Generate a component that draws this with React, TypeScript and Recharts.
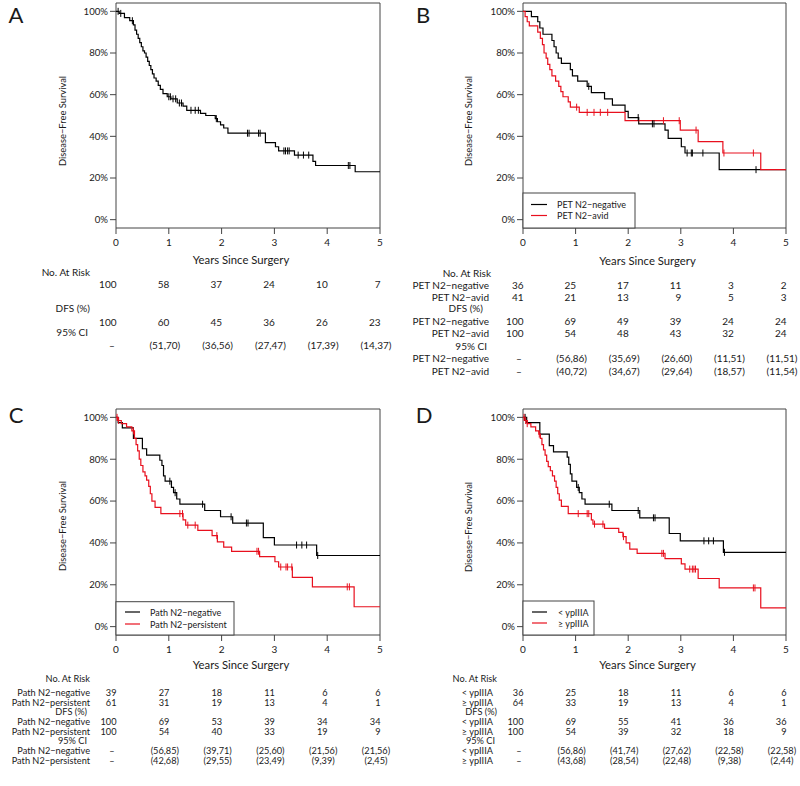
import React from "react";
import { ComposedChart, Line, Scatter, XAxis, YAxis, ReferenceArea } from "recharts";

const yearTicks = [0, 1, 2, 3, 4, 5];
const survTicks = [0, 0.2, 0.4, 0.6, 0.8, 1];
const sectionTitles = ["No. At Risk", "DFS (%)", "95% CI"];

// A: all patients
const allTime = [0, 0.06, 0.16, 0.26, 0.33, 0.36, 0.39, 0.42, 0.45, 0.48, 0.51, 0.54, 0.57, 0.6, 0.63, 0.66, 0.69, 0.72, 0.76, 0.8, 0.84, 0.89, 0.97, 1.04, 1.16, 1.27, 1.34, 1.6, 1.7, 1.88, 1.92, 1.98, 2.04, 2.12, 2.83, 3.02, 3.08, 3.38, 3.73, 3.78, 4.53];
const allSurv = [1, 0.99, 0.97, 0.955, 0.935, 0.91, 0.89, 0.87, 0.85, 0.83, 0.81, 0.8, 0.78, 0.76, 0.74, 0.72, 0.7, 0.68, 0.665, 0.645, 0.625, 0.605, 0.59, 0.58, 0.56, 0.545, 0.525, 0.51, 0.5, 0.485, 0.47, 0.455, 0.44, 0.415, 0.37, 0.35, 0.33, 0.31, 0.28, 0.26, 0.23];
const allCens = [0.04, 0.09, 0.31, 1.0, 1.03, 1.08, 1.13, 1.2, 1.24, 1.42, 1.5, 1.56, 1.9, 2.49, 2.52, 2.7, 2.73, 3.18, 3.21, 3.25, 3.28, 3.45, 3.55, 3.65, 4.4, 4.43];
const allRisk = [100, 58, 37, 24, 10, 7];
const allDfs = [100, 60, 45, 36, 26, 23];
const allCi = ["–", "(51,70)", "(36,56)", "(27,47)", "(17,39)", "(14,37)"];

// B: PET N2
const petNegTime = [0, 0.16, 0.28, 0.32, 0.38, 0.55, 0.59, 0.63, 0.67, 0.73, 0.9, 0.94, 1.04, 1.22, 1.3, 1.55, 1.7, 1.94, 2.0, 2.2, 2.7, 2.76, 3.01, 3.08, 3.73];
const petNegSurv = [1, 0.975, 0.95, 0.92, 0.89, 0.86, 0.83, 0.8, 0.775, 0.75, 0.72, 0.69, 0.665, 0.64, 0.61, 0.58, 0.55, 0.52, 0.49, 0.46, 0.43, 0.39, 0.35, 0.32, 0.24];
const petNegCens = [1.25, 2.19, 2.46, 2.49, 3.12, 3.2, 3.22, 3.42, 4.43];
const petAvidTime = [0, 0.04, 0.08, 0.12, 0.28, 0.33, 0.37, 0.4, 0.44, 0.47, 0.51, 0.55, 0.62, 0.68, 0.72, 0.76, 0.86, 0.9, 1.07, 1.94, 2.99, 3.33, 3.8, 4.52];
const petAvidSurv = [1, 0.975, 0.95, 0.93, 0.9, 0.87, 0.84, 0.8, 0.775, 0.745, 0.72, 0.69, 0.665, 0.64, 0.615, 0.59, 0.565, 0.54, 0.515, 0.475, 0.43, 0.375, 0.32, 0.24];
const petAvidCens = [1.02, 1.22, 1.35, 1.47, 1.61, 2.67, 2.97, 3.29, 3.82, 4.38];
const petNegRisk = [36, 25, 17, 11, 3, 2];
const petAvidRisk = [41, 21, 13, 9, 5, 3];
const petNegDfs = [100, 69, 49, 39, 24, 24];
const petAvidDfs = [100, 54, 48, 43, 32, 24];
const petNegCi = ["–", "(56,86)", "(35,69)", "(26,60)", "(11,51)", "(11,51)"];
const petAvidCi = ["–", "(40,72)", "(34,67)", "(29,64)", "(18,57)", "(11,54)"];

// C: pathologic N2
const pathNegTime = [0, 0.04, 0.12, 0.33, 0.5, 0.58, 0.83, 0.87, 0.9, 0.93, 1.05, 1.09, 1.15, 1.21, 1.68, 1.98, 2.21, 2.79, 3.0, 3.8];
const pathNegSurv = [1, 0.975, 0.95, 0.9, 0.85, 0.82, 0.795, 0.77, 0.72, 0.695, 0.665, 0.64, 0.61, 0.585, 0.555, 0.525, 0.495, 0.425, 0.39, 0.34];
const pathNegCens = [1.02, 1.12, 1.64, 2.18, 2.47, 2.5, 3.42, 3.52, 3.61, 3.82];
const pathPersTime = [0, 0.03, 0.1, 0.2, 0.3, 0.35, 0.38, 0.41, 0.44, 0.47, 0.51, 0.55, 0.58, 0.62, 0.65, 0.68, 0.74, 0.85, 1.27, 1.32, 1.55, 1.82, 1.92, 2.04, 2.19, 2.72, 3.01, 3.08, 3.34, 3.72, 4.51];
const pathPersSurv = [1, 0.985, 0.97, 0.955, 0.935, 0.9, 0.87, 0.84, 0.8, 0.77, 0.74, 0.72, 0.7, 0.67, 0.635, 0.6, 0.57, 0.54, 0.51, 0.485, 0.46, 0.435, 0.405, 0.38, 0.36, 0.335, 0.31, 0.285, 0.235, 0.19, 0.095];
const pathPersCens = [0.02, 0.05, 0.33, 1.21, 1.26, 1.36, 1.5, 1.91, 2.67, 2.7, 3.12, 3.22, 3.25, 3.33, 4.38, 4.42];
const pathNegRisk = [39, 27, 18, 11, 6, 6];
const pathPersRisk = [61, 31, 19, 13, 4, 1];
const pathNegDfs = [100, 69, 53, 39, 34, 34];
const pathPersDfs = [100, 54, 40, 33, 19, 9];
const pathNegCi = ["–", "(56,85)", "(39,71)", "(25,60)", "(21,56)", "(21,56)"];
const pathPersCi = ["–", "(42,68)", "(29,55)", "(23,49)", "(9,39)", "(2,45)"];

// D: ypStage
const ypLowTime = [0, 0.07, 0.32, 0.5, 0.58, 0.84, 0.87, 0.9, 0.93, 1.02, 1.07, 1.12, 1.18, 1.69, 2.22, 2.78, 2.99, 3.81];
const ypLowSurv = [1, 0.975, 0.92, 0.865, 0.835, 0.81, 0.775, 0.73, 0.695, 0.665, 0.64, 0.61, 0.585, 0.555, 0.52, 0.445, 0.41, 0.355];
const ypLowCens = [0.04, 1.05, 1.64, 2.19, 2.48, 2.51, 3.44, 3.53, 3.62, 3.83];
const ypHighTime = [0, 0.03, 0.08, 0.15, 0.24, 0.3, 0.33, 0.36, 0.39, 0.42, 0.45, 0.48, 0.52, 0.56, 0.6, 0.63, 0.66, 0.69, 0.73, 0.86, 1.3, 1.33, 1.55, 1.82, 1.9, 1.96, 2.03, 2.17, 2.7, 3.01, 3.08, 3.33, 3.73, 4.52];
const ypHighSurv = [1, 0.985, 0.97, 0.955, 0.935, 0.92, 0.9, 0.87, 0.845, 0.82, 0.79, 0.765, 0.745, 0.72, 0.695, 0.665, 0.635, 0.605, 0.575, 0.54, 0.51, 0.49, 0.47, 0.45, 0.43, 0.4, 0.37, 0.35, 0.325, 0.3, 0.275, 0.23, 0.185, 0.09];
const ypHighCens = [0.02, 0.05, 0.08, 0.31, 1.05, 1.22, 1.25, 1.36, 1.52, 1.91, 2.64, 2.67, 3.17, 3.22, 3.25, 3.28, 4.38, 4.41];
const ypLowRisk = [36, 25, 18, 11, 6, 6];
const ypHighRisk = [64, 33, 19, 13, 4, 1];
const ypLowDfs = [100, 69, 55, 41, 36, 36];
const ypHighDfs = [100, 54, 39, 32, 18, 9];
const ypLowCi = ["–", "(56,86)", "(41,74)", "(27,62)", "(22,58)", "(22,58)"];
const ypHighCi = ["–", "(43,68)", "(28,54)", "(22,48)", "(9,38)", "(2,44)"];

const BLACK = "#000";
const RED = "#e8101e";
const AXIS = "#444";
const TEXT = "#1a1a1a";

type Curve = {
  name: string;
  color: string;
  time: number[];
  surv: number[];
  cens: number[];
  risk: number[];
  dfs: number[];
  ci: string[];
};

type Legend = { x1: number; y1: number; x2: number; lineX: [number, number]; lineY: number[]; textX: number };

type Layout = {
  letter: string;
  left: number;
  top: number;
  height: number;
  yAxisW: number;
  marginTop: number;
  marginRight: number;
  letterPos: [number, number];
  yLabelPos: [number, number];
  titleY: number;
  legend?: Legend;
  tableFont: number;
  headX: number[];
  headY: number[];
  rowX: number;
  rowY: number[][];
};

function stepPoints(time: number[], surv: number[]) {
  const pts = time.map((t, i) => ({ t, s: surv[i] }));
  pts.push({ t: 5, s: surv[surv.length - 1] });
  return pts;
}

function censorPoints(time: number[], surv: number[], cens: number[]) {
  return cens.map((c) => {
    let s = surv[0];
    time.forEach((t, i) => {
      if (t <= c) s = surv[i];
    });
    return { t: c, s };
  });
}

const censorShape = (color: string) => (props: any) =>
  <line x1={props.cx} x2={props.cx} y1={props.cy - 3.5} y2={props.cy + 3.5} stroke={color} strokeWidth={1} />;

function Panel({ layout, curves }: { layout: Layout; curves: Curve[] }) {
  const L = layout;
  const plotLeft = L.left + L.yAxisW;
  const plotRight = L.left + 400 - L.marginRight;
  const plotBottom = L.top + L.height - 42;
  const step = (plotRight - plotLeft) / 5;
  const tickX = yearTicks.map((y) => plotLeft + y * step);
  const multi = curves.length > 1;
  const fs = L.tableFont;

  return (
    <>
      <div style={{ position: "absolute", left: L.left, top: L.top, width: 400, height: L.height }}>
        <ComposedChart width={400} height={L.height} margin={{ top: L.marginTop, right: L.marginRight, left: 0, bottom: 0 }}>
          <XAxis
            type="number"
            dataKey="t"
            domain={[0, 5]}
            ticks={yearTicks}
            interval={0}
            allowDataOverflow
            height={42}
            tickSize={6}
            tickMargin={5}
            axisLine={false}
            tickLine={{ stroke: AXIS }}
            tick={{ fontSize: 10, fill: TEXT }}
          />
          <YAxis
            type="number"
            dataKey="s"
            domain={[-0.04, 1.04]}
            ticks={survTicks}
            interval={0}
            allowDataOverflow
            width={L.yAxisW}
            tickSize={6}
            tickMargin={2}
            axisLine={false}
            tickLine={{ stroke: AXIS }}
            tick={{ fontSize: 9.6, fill: TEXT }}
            tickFormatter={(v: number) => `${Math.round(v * 100)}%`}
          />
          <ReferenceArea x1={0} x2={5} y1={-0.04} y2={1.04} fill="none" stroke={AXIS} strokeWidth={1} ifOverflow="visible" />
          {curves.map((c) => (
            <Line
              key={c.name + "-line"}
              data={stepPoints(c.time, c.surv)}
              dataKey="s"
              type="stepAfter"
              stroke={c.color}
              strokeWidth={1.2}
              dot={false}
              isAnimationActive={false}
            />
          ))}
          {curves.map((c) => (
            <Scatter
              key={c.name + "-cens"}
              data={censorPoints(c.time, c.surv, c.cens)}
              dataKey="s"
              shape={censorShape(c.color)}
              isAnimationActive={false}
            />
          ))}
        </ComposedChart>
      </div>
      <svg width={800} height={786} style={{ position: "absolute", left: 0, top: 0, pointerEvents: "none" }}>
        <text x={L.letterPos[0]} y={L.letterPos[1]} fontSize={22} textAnchor="middle" dominantBaseline="central" fill={TEXT}>
          {L.letter}
        </text>
        <text
          x={L.yLabelPos[0]}
          y={L.yLabelPos[1]}
          fontSize={9.4}
          textAnchor="middle"
          dominantBaseline="central"
          fill={TEXT}
          transform={`rotate(-90 ${L.yLabelPos[0]} ${L.yLabelPos[1]})`}
        >
          Disease−Free Survival
        </text>
        <text x={(plotLeft + plotRight) / 2 - 7} y={L.titleY} fontSize={11.3} textAnchor="middle" dominantBaseline="central" fill={TEXT}>
          Years Since Surgery
        </text>
        {L.legend && (
          <g>
            <rect
              x={L.legend.x1}
              y={L.legend.y1}
              width={L.legend.x2 - L.legend.x1}
              height={plotBottom - L.legend.y1}
              fill="#fff"
              stroke={AXIS}
              strokeWidth={1}
            />
            {curves.map((c, j) => (
              <g key={c.name + "-leg"}>
                <line x1={L.legend!.lineX[0]} x2={L.legend!.lineX[1]} y1={L.legend!.lineY[j]} y2={L.legend!.lineY[j]} stroke={c.color} strokeWidth={1.2} />
                <text x={L.legend!.textX} y={L.legend!.lineY[j]} fontSize={9} dominantBaseline="central" fill={TEXT}>
                  {c.name}
                </text>
              </g>
            ))}
          </g>
        )}
        {sectionTitles.map((title, k) => (
          <g key={title}>
            <text x={L.headX[k]} y={L.headY[k]} fontSize={fs} textAnchor="end" dominantBaseline="central" fill={TEXT}>
              {title}
            </text>
            {curves.map((c, j) => {
              const vals = k === 0 ? c.risk.map(String) : k === 1 ? c.dfs.map(String) : c.ci;
              const y = L.rowY[k][j];
              return (
                <g key={c.name + k}>
                  {multi && (
                    <text x={L.rowX} y={y} fontSize={fs} textAnchor="end" dominantBaseline="central" fill={TEXT}>
                      {c.name}
                    </text>
                  )}
                  {vals.map((v, i) => (
                    <text
                      key={i}
                      x={k < 2 ? tickX[i] + 0.5 : tickX[i] - 4}
                      y={y}
                      fontSize={fs}
                      textAnchor={k < 2 ? "end" : "middle"}
                      dominantBaseline="central"
                      fill={TEXT}
                    >
                      {v}
                    </text>
                  ))}
                </g>
              );
            })}
          </g>
        ))}
      </svg>
    </>
  );
}

const panelA: Curve[] = [
  { name: "All", color: BLACK, time: allTime, surv: allSurv, cens: allCens, risk: allRisk, dfs: allDfs, ci: allCi },
];
const panelB: Curve[] = [
  { name: "PET N2−negative", color: BLACK, time: petNegTime, surv: petNegSurv, cens: petNegCens, risk: petNegRisk, dfs: petNegDfs, ci: petNegCi },
  { name: "PET N2−avid", color: RED, time: petAvidTime, surv: petAvidSurv, cens: petAvidCens, risk: petAvidRisk, dfs: petAvidDfs, ci: petAvidCi },
];
const panelC: Curve[] = [
  { name: "Path N2−negative", color: BLACK, time: pathNegTime, surv: pathNegSurv, cens: pathNegCens, risk: pathNegRisk, dfs: pathNegDfs, ci: pathNegCi },
  { name: "Path N2−persistent", color: RED, time: pathPersTime, surv: pathPersSurv, cens: pathPersCens, risk: pathPersRisk, dfs: pathPersDfs, ci: pathPersCi },
];
const panelD: Curve[] = [
  { name: "< ypIIIA", color: BLACK, time: ypLowTime, surv: ypLowSurv, cens: ypLowCens, risk: ypLowRisk, dfs: ypLowDfs, ci: ypLowCi },
  { name: "≥ ypIIIA", color: RED, time: ypHighTime, surv: ypHighSurv, cens: ypHighCens, risk: ypHighRisk, dfs: ypHighDfs, ci: ypHighCi },
];

const layoutA: Layout = {
  letter: "A", left: 0, top: 0, height: 270, yAxisW: 116, marginTop: 3, marginRight: 20,
  letterPos: [16, 14], yLabelPos: [62, 121], titleY: 259, tableFont: 10,
  headX: [90, 90, 88], headY: [272.3, 308.3, 332], rowX: 90, rowY: [[284.3], [321.7], [345]],
};
const layoutB: Layout = {
  letter: "B", left: 400, top: 0, height: 270, yAxisW: 123, marginTop: 3, marginRight: 14,
  letterPos: [423, 14], yLabelPos: [468, 121], titleY: 260, tableFont: 10,
  legend: { x1: 523, y1: 193, x2: 635, lineX: [531, 547], lineY: [204.5, 215.5], textX: 557 },
  headX: [491, 483, 487], headY: [272.7, 308.3, 346], rowX: 489,
  rowY: [[285, 296.7], [321, 333.3], [358.3, 371]],
};
const layoutC: Layout = {
  letter: "C", left: 0, top: 400, height: 277, yAxisW: 116, marginTop: 9, marginRight: 20,
  letterPos: [16, 414], yLabelPos: [62, 526], titleY: 664, tableFont: 9.2,
  legend: { x1: 116, y1: 601.7, x2: 234, lineX: [125, 140], lineY: [612, 624], textX: 150 },
  headX: [90, 87, 87], headY: [678.3, 711.7, 740.8], rowX: 90,
  rowY: [[692.3, 702], [721.4, 731.1], [750.5, 760.2]],
};
const layoutD: Layout = {
  letter: "D", left: 400, top: 400, height: 277, yAxisW: 123, marginTop: 9, marginRight: 14,
  letterPos: [424, 414], yLabelPos: [468, 527], titleY: 664, tableFont: 9.2,
  legend: { x1: 523, y1: 601, x2: 594, lineX: [532, 547], lineY: [612, 623], textX: 558 },
  headX: [497, 497, 495], headY: [678.3, 711.7, 740.8], rowX: 493,
  rowY: [[692.3, 702], [721.4, 731.1], [750.5, 760.2]],
};

export default function App() {
  return (
    <div
      style={{
        position: "absolute",
        left: 0,
        top: 0,
        width: 800,
        height: 786,
        background: "#fff",
        fontFamily: "Lato, 'Liberation Sans', sans-serif",
      }}
    >
      <Panel layout={layoutA} curves={panelA} />
      <Panel layout={layoutB} curves={panelB} />
      <Panel layout={layoutC} curves={panelC} />
      <Panel layout={layoutD} curves={panelD} />
    </div>
  );
}
